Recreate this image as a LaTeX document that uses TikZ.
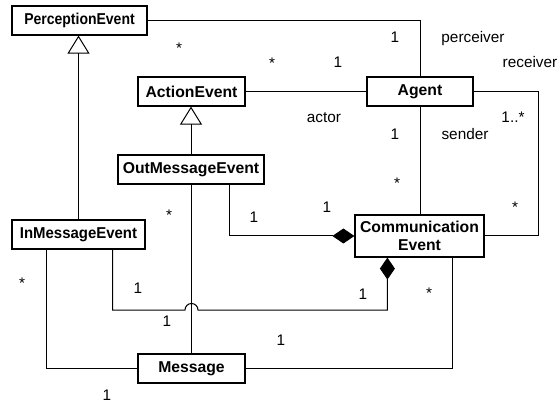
\documentclass[tikz,border=0pt]{standalone}
\usepackage{fontspec}
\usepackage{graphicx}
\setmainfont{Liberation Sans}
\usetikzlibrary{arrows.meta,calc}
\begin{document}
\begin{tikzpicture}[x=0.75pt,y=-0.75pt,
  box/.style={draw, line width=0.9pt, inner sep=0pt, minimum height=21.75pt, font=\bfseries\fontsize{11.8}{13.5}\selectfont, align=center},
  lbl/.style={anchor=base, inner sep=0pt, font=\fontsize{11.5}{13}\selectfont},
  conn/.style={line width=0.75pt},
  gen/.style={conn, -{Triangle[open, length=13.5pt, width=16.5pt, line width=0.75pt]}},
  comp/.style={conn, -{Diamond[length=16.5pt, width=11.25pt]}}]
\useasboundingbox (0,0) rectangle (558,403);
% classes
\node[box, minimum width=101.25pt] (pe) at (79.5,20.5) {\scalebox{0.89}[1]{PerceptionEvent}};
\node[box, minimum width=80.25pt] (ae) at (191.5,91.5) {ActionEvent};
\node[box, minimum width=79.5pt] (ag) at (420,91.5) {Agent};
\node[box, minimum width=109.5pt] (ome) at (191,169.5) {OutMessageEvent};
\node[box, minimum width=99.75pt] (ime) at (78.5,234.5) {\scalebox{0.95}[1]{InMessageEvent}};
\node[box, minimum width=96.75pt, minimum height=31.5pt] (ce) at (419.5,236) {Communication\\Event};
\node[box, minimum width=80.25pt] (msg) at (191.5,368.5) {Message};
% connectors
\draw[conn] (pe.east) -| (ag.north);
\draw[conn] (ae.east) -- (ag.west);
\draw[gen] (ime.north) -- (ime.north |- pe.south);
\draw[gen] (ome.north) -- (ome.north |- ae.south);
\draw[conn] (ag.south) -- (ag.south |- ce.north);
\draw[conn] (ag.east) -- ++(65,0) |- (ce.east);
\draw[comp] ($(ome.south east)+(-35,0)$) |- (ce.west);
\draw[conn] (msg.north) -- (msg.north |- ome.south);
\coordinate (jl) at (185,310);
\draw[comp] ($(ime.south east)+(-33,0)$) |- (jl) arc[start angle=180, end angle=0, radius=4.875pt] -| ($(ce.south west)+(33,0)$);
\draw[conn] ($(ime.south west)+(35,0)$) |- (msg.west);
\draw[conn] ($(ce.south east)+(-32,0)$) |- (msg.east);
% labels
\node[lbl] (l1) at (179,54) {*};
\node[lbl] (l2) at (272,69) {*};
\node[lbl] (l3) at (395,43) {1};
\node[lbl] (l4) at (338,68) {1};
\node[lbl] (l5) at (473,43) {perceiver};
\node[lbl] (l6) at (530,68) {receiver};
\node[lbl] (l7) at (324,123) {actor};
\node[lbl] (l8) at (513,123) {1..*};
\node[lbl] (l9) at (395,140) {1};
\node[lbl] (l10) at (465,140) {sender};
\node[lbl] (l11) at (397,189) {*};
\node[lbl] (l12) at (515,213) {*};
\node[lbl] (l13) at (169,221) {*};
\node[lbl] (l14) at (254,223) {1};
\node[lbl] (l15) at (327,213) {1};
\node[lbl] (l16) at (22,288) {*};
\node[lbl] (l17) at (138,293) {1};
\node[lbl] (l18) at (167,326) {1};
\node[lbl] (l19) at (363,300) {1};
\node[lbl] (l20) at (429,299) {*};
\node[lbl] (l21) at (281,345) {1};
\node[lbl] (l22) at (107,400) {1};
\end{tikzpicture}
\end{document}
